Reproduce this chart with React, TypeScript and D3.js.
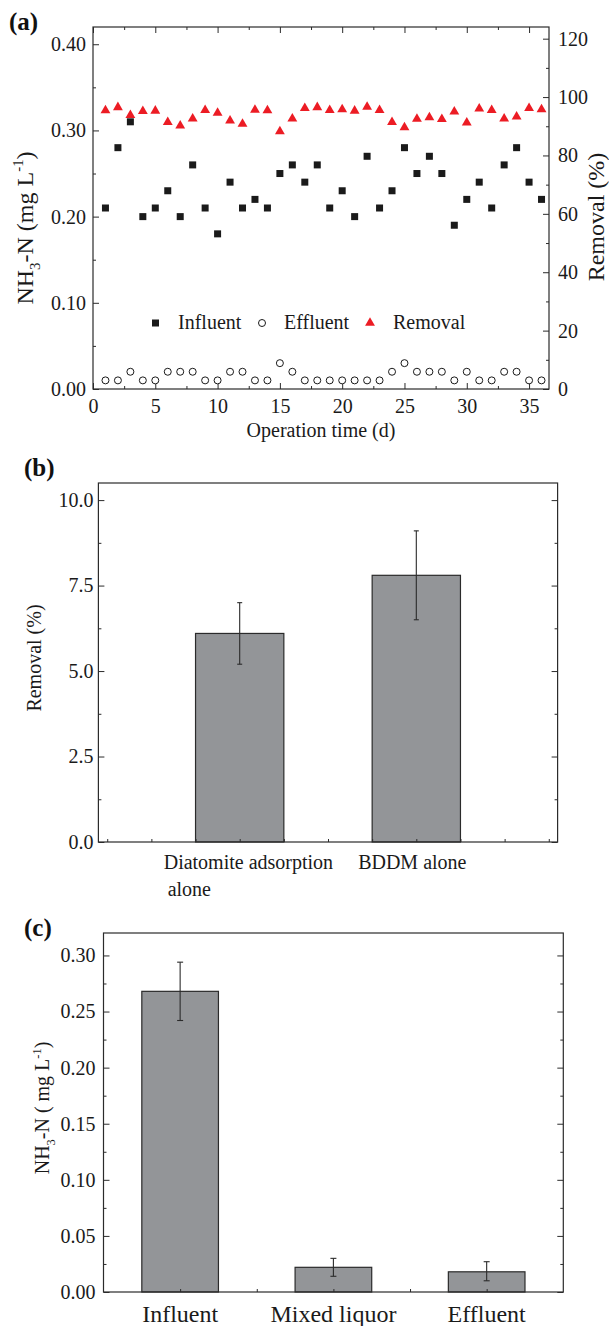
import React, { useEffect, useRef } from 'react';
import * as d3 from 'd3';

// (a) daily operation
const days = [1, 2, 3, 4, 5, 6, 7, 8, 9, 10, 11, 12, 13, 14, 15, 16, 17, 18, 19, 20, 21, 22, 23, 24, 25, 26, 27, 28, 29, 30, 31, 32, 33, 34, 35, 36];
const influent = [0.21, 0.28, 0.31, 0.20, 0.21, 0.23, 0.20, 0.26, 0.21, 0.18, 0.24, 0.21, 0.22, 0.21, 0.25, 0.26, 0.24, 0.26, 0.21, 0.23, 0.20, 0.27, 0.21, 0.23, 0.28, 0.25, 0.27, 0.25, 0.19, 0.22, 0.24, 0.21, 0.26, 0.28, 0.24, 0.22];
const effluent = [0.01, 0.01, 0.02, 0.01, 0.01, 0.02, 0.02, 0.02, 0.01, 0.01, 0.02, 0.02, 0.01, 0.01, 0.03, 0.02, 0.01, 0.01, 0.01, 0.01, 0.01, 0.01, 0.01, 0.02, 0.03, 0.02, 0.02, 0.02, 0.01, 0.02, 0.01, 0.01, 0.02, 0.02, 0.01, 0.01];
const removal = [95.4, 96.5, 93.8, 95.2, 95.3, 91.4, 90.2, 92.6, 95.5, 94.6, 91.9, 90.8, 95.6, 95.4, 88.2, 92.6, 96.2, 96.5, 95.5, 95.8, 95.3, 96.6, 95.5, 91.4, 89.6, 92.5, 93.0, 92.4, 95.0, 91.2, 96.0, 95.5, 92.6, 93.3, 96.2, 95.8];
const dayTicks = [0, 5, 10, 15, 20, 25, 30, 35];
const concTicksA = [0, 0.1, 0.2, 0.3, 0.4];
const removalTicksA = [0, 20, 40, 60, 80, 100, 120];

// (b) removal by process
const processes = ['Diatomite adsorption', 'BDDM alone'];
const processRemoval = [6.1, 7.8];
const processLow = [5.2, 6.5];
const processHigh = [7.0, 9.1];
const removalTicksB = [0, 2.5, 5, 7.5, 10];

// (c) NH3-N along the process
const stages = ['Influent', 'Mixed liquor', 'Effluent'];
const stageConc = [0.268, 0.022, 0.018];
const stageLow = [0.242, 0.014, 0.010];
const stageHigh = [0.294, 0.030, 0.027];
const concTicksC = [0, 0.05, 0.1, 0.15, 0.2, 0.25, 0.3];

const FONT = '"Liberation Serif", "Times New Roman", Times, serif';
const INK = '#2b2b2b';
const TXT = '#1a1a1a';
const BAR = '#939598';
const RED = '#ec1c24';

const axisG = (g, axis, tx, ty, size) => {
  const a = g.append('g').attr('transform', `translate(${tx},${ty})`).call(axis);
  a.select('.domain').remove();
  a.selectAll('line').attr('stroke', INK);
  a.attr('font-family', null).attr('font-size', null);
  a.selectAll('text').attr('fill', TXT).style('font-family', FONT).style('font-size', size + 'px');
  return a;
};

const frame = (g, xs, ys) => {
  const [l, r] = xs.range();
  const [b, t] = ys.range();
  g.append('rect').attr('x', l).attr('y', t).attr('width', r - l).attr('height', b - t)
    .attr('fill', 'none').attr('stroke', INK).attr('stroke-width', 1.2);
};

const label = (g, x, y, size, s) => g.append('text').attr('x', x).attr('y', y).attr('fill', TXT)
  .style('font-family', FONT).style('font-size', size + 'px').text(s);

// rotated title with sub/superscripts: parts = [text, 'sub'|'sup'|'']
const rotTitle = (g, x, y, size, parts) => {
  const t = g.append('text').attr('transform', `translate(${x},${y}) rotate(-90)`)
    .attr('text-anchor', 'middle').attr('fill', TXT)
    .style('font-family', FONT).style('font-size', size + 'px');
  let shift = 0;
  parts.forEach(([s, kind]) => {
    const target = kind === 'sub' ? size * 0.3 : kind === 'sup' ? -size * 0.4 : 0;
    t.append('tspan').attr('dy', target - shift)
      .style('font-size', (kind ? size * 0.62 : size) + 'px').text(s);
    shift = target;
  });
  return t;
};

const panelLetter = (g, s, x, y) => label(g, x, y, 25, s).style('font-weight', 'bold').attr('fill', '#111');

function drawA(g) {
  const x = d3.scaleLinear().domain([0, 36.6]).range([93, 549]);
  const yL = d3.scaleLinear().domain([0, 0.42]).range([389, 27]);
  const yR = d3.scaleLinear().domain([0, 124]).range([389, 27]);
  const xMinor = d3.range(2.5, 36.6, 5);
  const none = () => '';

  axisG(g, d3.axisBottom(x).tickValues(dayTicks).tickSize(-6).tickPadding(10), 0, 389, 20);
  axisG(g, d3.axisBottom(x).tickValues(xMinor).tickSize(-3).tickFormat(none), 0, 389, 20);
  axisG(g, d3.axisTop(x).tickValues(dayTicks).tickSize(-6).tickFormat(none), 0, 27, 20);
  axisG(g, d3.axisTop(x).tickValues(xMinor).tickSize(-3).tickFormat(none), 0, 27, 20);
  axisG(g, d3.axisLeft(yL).tickValues(concTicksA).tickSize(-6).tickPadding(7).tickFormat(d3.format('.2f')), 93, 0, 20);
  axisG(g, d3.axisLeft(yL).tickValues(d3.range(0.05, 0.42, 0.1)).tickSize(-3).tickFormat(none), 93, 0, 20);
  axisG(g, d3.axisRight(yR).tickValues(removalTicksA).tickSize(-6).tickPadding(9).tickFormat(d3.format('d')), 549, 0, 20);
  axisG(g, d3.axisRight(yR).tickValues(d3.range(10, 124, 20)).tickSize(-3).tickFormat(none), 549, 0, 20);
  frame(g, x, yL);

  const tri = d3.symbol().type(d3.symbolTriangle).size(42);

  g.append('g').selectAll('path').data(days).join('path')
    .attr('d', tri).attr('transform', (d, i) => `translate(${x(d)},${yR(removal[i])})`)
    .attr('fill', RED);
  g.append('g').selectAll('rect').data(days).join('rect')
    .attr('x', d => x(d) - 3.5).attr('y', (d, i) => yL(influent[i]) - 3.5)
    .attr('width', 7).attr('height', 7).attr('fill', TXT);
  g.append('g').selectAll('circle').data(days).join('circle')
    .attr('cx', d => x(d)).attr('cy', (d, i) => yL(effluent[i])).attr('r', 3.5)
    .attr('fill', '#fff').attr('stroke', TXT).attr('stroke-width', 1);

  // legend
  g.append('rect').attr('x', 152).attr('y', 319.5).attr('width', 7).attr('height', 7).attr('fill', TXT);
  label(g, 178, 329, 20, 'Influent');
  g.append('circle').attr('cx', 262).attr('cy', 323).attr('r', 3.5).attr('fill', '#fff').attr('stroke', TXT);
  label(g, 284, 329, 20, 'Effluent');
  g.append('path').attr('d', tri).attr('transform', 'translate(370,323)').attr('fill', RED);
  label(g, 393, 329, 20, 'Removal');

  label(g, 321, 437, 20, 'Operation time (d)').attr('text-anchor', 'middle');
  rotTitle(g, 33, 228, 24, [['NH', ''], ['3', 'sub'], ['-N (mg L', ''], ['-1', 'sup'], [')', '']]);
  rotTitle(g, 604, 217, 24, [['Removal (%)', '']]);
  panelLetter(g, '(a)', 9, 30);
}

function drawB(g) {
  const x = d3.scaleLinear().domain([0.2, 2.8]).range([98.4, 557.6]);
  const y = d3.scaleLinear().domain([0, 10.5]).range([842, 483]);
  const none = () => '';
  const bw = x(1.25) - x(0.75);

  g.append('g').selectAll('rect').data(processes).join('rect')
    .attr('x', (d, i) => x(i + 1) - bw / 2).attr('y', (d, i) => y(processRemoval[i]))
    .attr('width', bw).attr('height', (d, i) => y(0) - y(processRemoval[i]))
    .attr('fill', BAR).attr('stroke', INK).attr('stroke-width', 1.2);

  const eb = g.append('g').attr('stroke', INK).attr('stroke-width', 1.1);
  processes.forEach((d, i) => {
    const cx = x(i + 1);
    eb.append('line').attr('x1', cx).attr('x2', cx).attr('y1', y(processLow[i])).attr('y2', y(processHigh[i]));
    [processLow[i], processHigh[i]].forEach(v => eb.append('line')
      .attr('x1', cx - 2.5).attr('x2', cx + 2.5).attr('y1', y(v)).attr('y2', y(v)));
  });

  axisG(g, d3.axisLeft(y).tickValues(removalTicksB).tickSize(-6).tickPadding(5).tickFormat(d3.format('.1f')), 98.4, 0, 20);
  axisG(g, d3.axisLeft(y).tickValues(d3.range(1.25, 10.5, 2.5)).tickSize(-3).tickFormat(none), 98.4, 0, 20);
  axisG(g, d3.axisRight(y).tickValues(removalTicksB).tickSize(-6).tickFormat(none), 557.6, 0, 20);
  axisG(g, d3.axisRight(y).tickValues(d3.range(1.25, 10.5, 2.5)).tickSize(-3).tickFormat(none), 557.6, 0, 20);
  axisG(g, d3.axisBottom(x).tickValues(d3.range(0.25, 2.8, 0.25)).tickSize(-3).tickFormat(none), 0, 842, 20);
  frame(g, x, y);

  const t1 = label(g, 0, 869, 20, null);
  t1.append('tspan').attr('x', x(1) - 76).text(processes[0]);
  t1.append('tspan').attr('x', x(1) - 72).attr('y', 896).text('alone');
  label(g, x(2) - 4, 869, 20, processes[1]).attr('text-anchor', 'middle');

  rotTitle(g, 41, 658, 20, [['Removal (%)', '']]);
  panelLetter(g, '(b)', 24, 476);
}

function drawC(g) {
  const x = d3.scaleLinear().domain([0.5, 3.5]).range([103.5, 563.3]);
  const y = d3.scaleLinear().domain([0, 0.32]).range([1292, 933]);
  const none = () => '';
  const bw = x(1.25) - x(0.75);

  g.append('g').selectAll('rect').data(stages).join('rect')
    .attr('x', (d, i) => x(i + 1) - bw / 2).attr('y', (d, i) => y(stageConc[i]))
    .attr('width', bw).attr('height', (d, i) => y(0) - y(stageConc[i]))
    .attr('fill', BAR).attr('stroke', INK).attr('stroke-width', 1.2);

  const eb = g.append('g').attr('stroke', INK).attr('stroke-width', 1.1);
  stages.forEach((d, i) => {
    const cx = x(i + 1);
    eb.append('line').attr('x1', cx).attr('x2', cx).attr('y1', y(stageLow[i])).attr('y2', y(stageHigh[i]));
    [stageLow[i], stageHigh[i]].forEach(v => eb.append('line')
      .attr('x1', cx - 3).attr('x2', cx + 3).attr('y1', y(v)).attr('y2', y(v)));
  });

  axisG(g, d3.axisLeft(y).tickValues(concTicksC).tickSize(-6).tickPadding(8).tickFormat(d3.format('.2f')), 103.5, 0, 20);
  axisG(g, d3.axisLeft(y).tickValues(d3.range(0.025, 0.32, 0.05)).tickSize(-3).tickFormat(none), 103.5, 0, 20);
  axisG(g, d3.axisRight(y).tickValues(concTicksC).tickSize(-6).tickFormat(none), 563.3, 0, 20);
  axisG(g, d3.axisRight(y).tickValues(d3.range(0.025, 0.32, 0.05)).tickSize(-3).tickFormat(none), 563.3, 0, 20);
  axisG(g, d3.axisBottom(x).tickValues(d3.range(1, 3.01, 0.5)).tickSize(-3).tickFormat(none), 0, 1292, 20);
  frame(g, x, y);

  stages.forEach((d, i) => label(g, x(i + 1), 1322, 24, d).attr('text-anchor', 'middle'));

  rotTitle(g, 49, 1108, 20, [['NH', ''], ['3', 'sub'], ['-N ( mg L', ''], ['-1', 'sup'], [')', '']]);
  panelLetter(g, '(c)', 24, 936);
}

export default function App() {
  const ref = useRef(null);

  useEffect(() => {
    if (!ref.current) return;
    const svg = d3.select(ref.current);
    svg.selectAll('*').remove();
    drawA(svg.append('g'));
    drawB(svg.append('g'));
    drawC(svg.append('g'));
  }, []);

  return (
    <svg ref={ref} width={609} height={1326}
      style={{ position: 'absolute', left: 0, top: 0, background: '#fff', fontFamily: FONT }} />
  );
}
